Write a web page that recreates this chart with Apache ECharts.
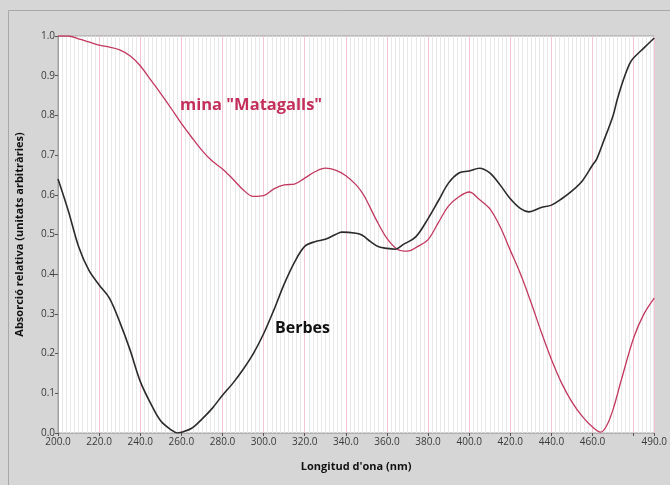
<!DOCTYPE html>
<html>
<head>
<meta charset="utf-8">
<script src="https://cdn.jsdelivr.net/npm/echarts@6/dist/echarts.min.js"></script>
<style>html,body{margin:0;padding:0;background:#d6d6d6;}#c{width:670px;height:485px;}</style>
</head>
<body>
<div id="c"></div>
<script>
const wavelengths = [200,205,210,215,220,225,230,235,240,245,250,255,258,260,265,270,275,280,285,290,295,300,305,310,315,320,325,330,335,338,345,348,352,356,360,364,368,374,380,385,390,395,400,405,410,415,420,425,429,435,440,445,450,455,460,462,465,470,472,475,478,480,485,490];
const berbes = [0.64,0.56,0.47,0.41,0.373,0.34,0.28,0.21,0.13,0.075,0.03,0.008,0.0,0.002,0.012,0.035,0.062,0.095,0.125,0.16,0.2,0.25,0.31,0.375,0.43,0.47,0.482,0.488,0.5,0.506,0.503,0.498,0.482,0.469,0.465,0.463,0.475,0.494,0.54,0.585,0.63,0.655,0.66,0.667,0.655,0.625,0.59,0.565,0.557,0.568,0.574,0.59,0.61,0.635,0.675,0.69,0.73,0.80,0.84,0.89,0.93,0.945,0.97,0.995];
const matagallsX = [200,205,210,215,220,225,230,235,240,245,250,255,260,265,270,275,280,285,290,295,300,305,310,315,320,325,330,335,340,345,348,350,355,360,365,370,375,380,385,390,395,400,405,410,415,420,425,430,435,440,445,450,455,460,464,467,470,474,480,485,490];
const matagalls = [1.0,1.0,0.993,0.985,0.977,0.972,0.965,0.95,0.925,0.89,0.855,0.818,0.78,0.745,0.712,0.685,0.665,0.64,0.613,0.596,0.598,0.615,0.625,0.627,0.642,0.658,0.667,0.662,0.648,0.625,0.605,0.587,0.535,0.49,0.463,0.458,0.47,0.487,0.53,0.572,0.595,0.607,0.588,0.565,0.52,0.46,0.4,0.33,0.255,0.185,0.125,0.078,0.042,0.015,0.002,0.02,0.06,0.134,0.24,0.3,0.34];
const xTickHidden = [480];

const chart = echarts.init(document.getElementById('c'), null, {renderer:'canvas'});
const zip = (xs, ys) => xs.map((x,i)=>[x, ys[i]]);
chart.setOption({
  backgroundColor:'#d6d6d6',
  animation:false,
  graphic:[
    {type:'rect', shape:{x:8.5,y:10.5,width:670,height:480}, style:{fill:'none', stroke:'#a8a8a8', lineWidth:1}, z:-1},
    {type:'text', left:180, top:97, z:100, style:{text:'mina "Matagalls"', fill:'#c4305c', font:'bold 16.5px "Open Sans", sans-serif'}},
    {type:'text', left:275, top:320, z:100, style:{text:'Berbes', fill:'#111', font:'bold 16px "Open Sans", sans-serif'}}
  ],
  grid:{left:58, right:13, top:36, bottom:52, show:true, backgroundColor:'#ffffff', borderColor:'#a0a0a0', borderWidth:1},
  xAxis:{
    type:'value', min:200, max:490, interval:20,
    name:"Longitud d'ona (nm)", nameLocation:'middle', nameGap:28,
    nameTextStyle:{fontWeight:'bold', fontSize:11, color:'#111', fontFamily:'"Open Sans", sans-serif'},
    axisLine:{show:true, lineStyle:{color:'#b0b0b0'}},
    axisTick:{show:true, length:3, lineStyle:{color:'#555'}},
    axisLabel:{color:'#3a3a3a', fontSize:10, margin:4, fontFamily:'"Open Sans", sans-serif', showMaxLabel:true,
      formatter:v=> xTickHidden.includes(v) ? '' : v.toFixed(1)},
    splitLine:{show:true, lineStyle:{color:'#f2c6d4', width:1}},
    minorTick:{show:false, splitNumber:10},
    minorSplitLine:{show:true, lineStyle:{color:'#e8e8e8', width:1}}
  },
  yAxis:{
    type:'value', min:0, max:1, interval:0.1,
    name:'Absorció relativa (unitats arbitràries)', nameLocation:'middle', nameGap:33,
    nameTextStyle:{fontWeight:'bold', fontSize:11, color:'#111', fontFamily:'"Open Sans", sans-serif'},
    axisLine:{show:true, lineStyle:{color:'#a0a0a0'}},
    axisTick:{show:true, length:3, lineStyle:{color:'#555'}},
    axisLabel:{color:'#3a3a3a', fontSize:10, margin:3, fontFamily:'"Open Sans", sans-serif', formatter:v=>v.toFixed(1)},
    splitLine:{show:false}
  },
  series:[
    {type:'line', data:zip(matagallsX, matagalls), smooth:0.35, showSymbol:false, lineStyle:{color:'#c2385f', width:1.3}, z:3},
    {type:'line', data:zip(wavelengths, berbes), smooth:0.35, showSymbol:false, lineStyle:{color:'#2b2b2b', width:1.6}, z:4}
  ]
});
</script>
</body>
</html>
